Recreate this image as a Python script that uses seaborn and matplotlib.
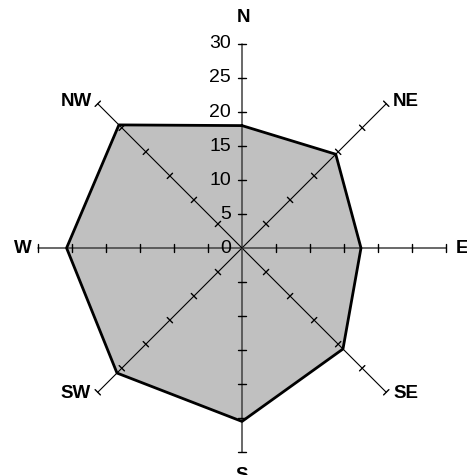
import numpy as np
import seaborn as sns
from matplotlib import pyplot as plt

# wind rose data
directions = ["N", "NE", "E", "SE", "S", "SW", "W", "NW"]
values = [18, 19.5, 17.5, 21, 25.5, 26, 25.8, 25.6]
tick_values = [0, 5, 10, 15, 20, 25, 30]
r_max = 30

sns.set_theme(style="white")
plt.rcParams['font.family'] = ['Liberation Sans', 'DejaVu Sans']
plt.rcParams['text.color'] = 'black'

fig = plt.figure(figsize=(4.67, 4.75), dpi=100)
ax = fig.add_axes([0, 0, 1, 1])
ax.set_xlim(-35.59, 33.09)
ax.set_ylim(-33.38, 36.47)
ax.axis("off")

# bearing of each direction, clockwise from north
angles = np.deg2rad(np.arange(len(directions)) * 45)
xs = np.array(values) * np.sin(angles)
ys = np.array(values) * np.cos(angles)

# filled area
ax.fill(xs, ys, color="#C0C0C0", zorder=1, lw=0)

# spokes with tick marks
for i, a in enumerate(angles):
    ux, uy = np.sin(a), np.cos(a)
    main = i % 2 == 0
    ax.plot([0, r_max * ux], [0, r_max * uy],
            color="#404040" if main else "black", lw=1.1 if main else 0.8, zorder=2)
    px, py = -uy, ux
    h = 0.55
    for t in tick_values[1:]:
        cx, cy = t * ux, t * uy
        ax.plot([cx - h * px, cx + h * px], [cy - h * py, cy + h * py],
                color="black", lw=1.0, zorder=2)

# outline (closed)
sns.lineplot(x=np.append(xs, xs[0]), y=np.append(ys, ys[0]), sort=False,
             estimator=None, color="black", lw=2, ax=ax, zorder=3)

# value labels on the north spoke
for t in tick_values:
    ax.annotate(str(t), (0, t), xytext=(-11, 0), textcoords="offset pixels",
                ha="right", va="center", fontsize=14, color="black", zorder=4)

# direction labels
offsets = {
    "N": (2, 18, "center", "bottom"),
    "NE": (7, 2, "left", "center"),
    "E": (10, 0, "left", "center"),
    "SE": (7, -1, "left", "center"),
    "S": (0, -15, "center", "top"),
    "SW": (-7, -1, "right", "center"),
    "W": (-6, 0, "right", "center"),
    "NW": (-6, 2, "right", "center"),
}
for d, a in zip(directions, angles):
    dx, dy, ha, va = offsets[d]
    ax.annotate(d, (r_max * np.sin(a), r_max * np.cos(a)), xytext=(dx, dy),
                textcoords="offset pixels", ha=ha, va=va, color="black",
                fontsize=13.5, fontweight="bold", zorder=4)

plt.savefig("out.png", dpi=100)
